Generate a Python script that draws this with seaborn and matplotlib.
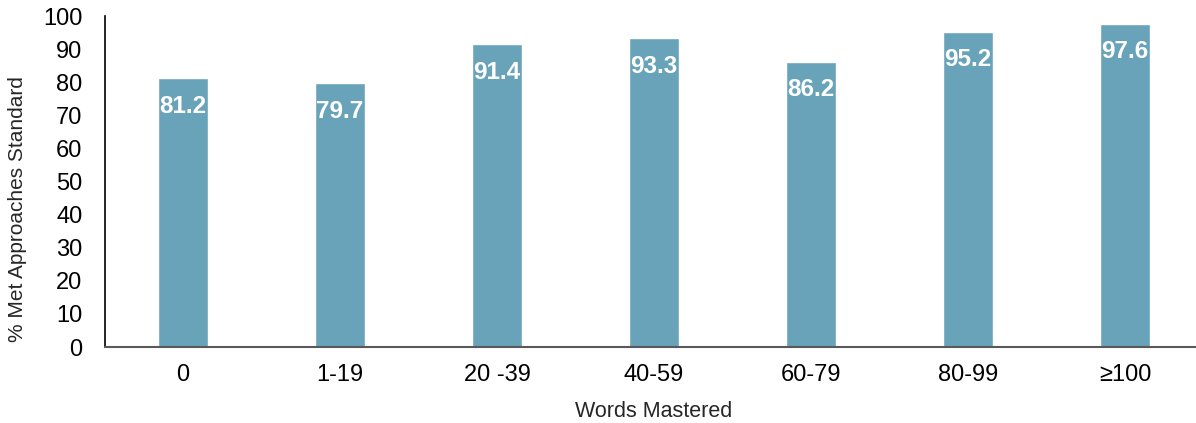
import matplotlib
matplotlib.use("Agg")
import matplotlib.pyplot as plt
import seaborn as sns
import pandas as pd

# data
categorias = ['0', '1-19', '20 -39', '40-59', '60-79', '80-99', '≥100']
valores = [81.2, 79.7, 91.4, 93.3, 86.2, 95.2, 97.6]

df = pd.DataFrame({'palavras': categorias, 'pct': valores})

sns.set_style('white')
plt.rcParams['font.family'] = ['Liberation Sans', 'DejaVu Sans']

fig = plt.figure(figsize=(11.96, 4.23), dpi=100)
ax = fig.add_axes([104.5 / 1196, 1 - 347 / 423, 1099 / 1196, (347 - 16) / 423])

sns.barplot(data=df, x='palavras', y='pct', color='#68A3B9', width=0.32,
            saturation=1, ax=ax)

for i, v in enumerate(valores):
    ax.text(i, v - 5.0, f'{v:.1f}', ha='center', va='top', color='white',
            fontsize=17.5, fontweight='bold')

ax.set_ylim(0, 100)
ax.set_xlim(-0.5, len(categorias) - 0.5)
ax.set_yticks(range(0, 101, 10))
ax.tick_params(axis='both', length=0, labelsize=17, colors='black')
ax.tick_params(axis='x', pad=12)
ax.tick_params(axis='y', pad=16)
ax.set_xlabel('Words Mastered', fontsize=15.5, labelpad=11)
ax.set_ylabel('% Met Approaches Standard', fontsize=15)
ax.yaxis.set_label_coords(-0.0705, 0.417)

sns.despine(ax=ax, top=True, right=True)
ax.spines['left'].set_color('black')
ax.spines['left'].set_linewidth(1.2)
ax.spines['bottom'].set_color('#595959')
ax.spines['bottom'].set_linewidth(1.5)

fig.savefig('out.png', dpi=100)
